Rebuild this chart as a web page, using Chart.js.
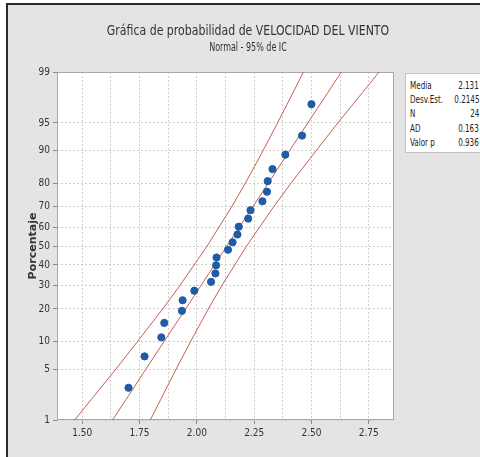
<!DOCTYPE html>
<html>
<head>
<meta charset="utf-8">
<script src="https://cdn.jsdelivr.net/npm/chart.js@4.4.1/dist/chart.umd.min.js"></script>
<style>
  html, body { margin: 0; padding: 0; background: #ffffff; }
  #frame {
    position: absolute; left: 6px; top: 3px; width: 480px; height: 460px;
    background: #e4e4e4; border-left: 2px solid #2a2a2a; border-top: 2px solid #2a2a2a;
  }
  #wrap { position: absolute; left: 0; top: 0; width: 480px; height: 457px; }
  .titulo {
    position: absolute; left: 48px; width: 400px; text-align: center; color: #333;
    font-family: 'DejaVu Sans Condensed', 'Liberation Sans', sans-serif; white-space: nowrap;
  }
  #t1 { top: 22px; font-size: 14px; transform: scaleX(0.87); }
  #t2 { top: 40px; font-size: 12px; transform: scaleX(0.74); }
  #stats {
    position: absolute; left: 405px; top: 73px; width: 80px; height: 78px;
    background: #ffffff; border: 1px solid #c4c4c4;
    font-family: 'DejaVu Sans Condensed', sans-serif;
    font-size: 10px; color: #222;
  }
  #stats div { position: absolute; height: 14px; line-height: 14px; white-space: nowrap; }
  #stats .nom { left: 4px; transform: scaleX(0.8); transform-origin: left center; }
  #stats .val { right: 7px; transform: scaleX(0.8); transform-origin: right center; }
</style>
</head>
<body>
<div id="frame"></div>
<div id="wrap"><canvas id="chart" width="480" height="457"></canvas></div>
<div class="titulo" id="t1"></div>
<div class="titulo" id="t2"></div>
<div id="stats"></div>
<script>
// valores
var velocidad = [1.702, 1.772, 1.845, 1.858, 1.935, 1.938, 1.989, 2.062, 2.081, 2.084, 2.086, 2.136,
                 2.156, 2.177, 2.183, 2.224, 2.234, 2.286, 2.306, 2.309, 2.330, 2.386, 2.459, 2.500];
var porcentaje = [2.9, 7.0, 11.1, 15.2, 19.3, 23.4, 27.5, 31.6, 35.7, 39.8, 43.9, 48.0,
                  52.0, 56.1, 60.2, 64.3, 68.4, 72.5, 76.6, 80.7, 84.8, 88.9, 93.0, 97.1];

// linea ajustada y bandas de confianza (95%)
var lineaPct = [1, 2, 5, 10, 20, 30, 50, 70, 80, 90, 95, 98, 99];
var lineaAjuste = [1.632, 1.691, 1.778, 1.856, 1.951, 2.019, 2.131, 2.244, 2.312, 2.406, 2.484, 2.572, 2.630];
var bandaIzq = [1.467, 1.539, 1.647, 1.740, 1.851, 1.927, 2.045, 2.152, 2.212, 2.290, 2.352, 2.420, 2.465];
var bandaDer = [1.797, 1.842, 1.910, 1.972, 2.050, 2.110, 2.217, 2.335, 2.411, 2.522, 2.615, 2.723, 2.795];

var yTicks = [1, 5, 10, 20, 30, 40, 50, 60, 70, 80, 90, 95, 99];
var xTicks = [1.5, 1.625, 1.75, 1.875, 2.0, 2.125, 2.25, 2.375, 2.5, 2.625, 2.75];
var xLabels = { '1.5': '1.50', '1.75': '1.75', '2': '2.00', '2.25': '2.25', '2.5': '2.50', '2.75': '2.75' };

var titulo = 'Gráfica de probabilidad de VELOCIDAD DEL VIENTO';
var subtitulo = 'Normal - 95% de IC';
var statsNames = ['Media', 'Desv.Est.', 'N', 'AD', 'Valor p'];
var statsValues = ['2.131', '0.2145', '24', '0.163', '0.936'];

// inversa de la normal (Acklam)
function probit(p) {
  var a = [-39.69683028665376, 220.9460984245205, -275.9285104469687, 138.3577518672690, -30.66479806614716, 2.506628277459239];
  var b = [-54.47609879822406, 161.5858368580409, -155.6989798598866, 66.80131188771972, -13.28068155288572];
  var c = [-0.007784894002430293, -0.3223964580411365, -2.400758277161838, -2.549732539343734, 4.374664141464968, 2.938163982698783];
  var d = [0.007784695709041462, 0.3224671290700398, 2.445134137142996, 3.754408661907416];
  var q, r;
  if (p < 0.02425) {
    q = Math.sqrt(-2 * Math.log(p));
    return (((((c[0]*q+c[1])*q+c[2])*q+c[3])*q+c[4])*q+c[5]) / ((((d[0]*q+d[1])*q+d[2])*q+d[3])*q+1);
  }
  if (p > 1 - 0.02425) {
    q = Math.sqrt(-2 * Math.log(1 - p));
    return -(((((c[0]*q+c[1])*q+c[2])*q+c[3])*q+c[4])*q+c[5]) / ((((d[0]*q+d[1])*q+d[2])*q+d[3])*q+1);
  }
  q = p - 0.5; r = q * q;
  return (((((a[0]*r+a[1])*r+a[2])*r+a[3])*r+a[4])*r+a[5])*q / (((((b[0]*r+b[1])*r+b[2])*r+b[3])*r+b[4])*r+1);
}

// escala de probabilidad normal
class ProbabilityScale extends Chart.LinearScale {
  buildTicks() {
    return yTicks.map(function (v) { return { value: v }; });
  }
  configure() {
    super.configure();
    this._zStart = probit(this.min / 100);
    this._zEnd = probit(this.max / 100);
  }
  getPixelForValue(value) {
    var z = probit(value / 100);
    return this.getPixelForDecimal((z - this._zStart) / (this._zEnd - this._zStart));
  }
}
ProbabilityScale.id = 'probability';
ProbabilityScale.defaults = Chart.LinearScale.defaults;
Chart.register(ProbabilityScale);

function toPoints(xs, ys) {
  return xs.map(function (x, i) { return { x: x, y: ys[i] }; });
}

var narrow = "'DejaVu Sans Condensed', sans-serif";
var lineColor = '#c8604f';
var gridColor = '#cfcfcf';

var plotBg = {
  id: 'plotBg',
  beforeDraw: function (chart) {
    var a = chart.chartArea, ctx = chart.ctx;
    ctx.save();
    ctx.fillStyle = '#ffffff';
    ctx.fillRect(a.left, a.top, a.right - a.left, a.bottom - a.top);
    ctx.restore();
  },
  beforeDatasetsDraw: function (chart) {
    var a = chart.chartArea, ctx = chart.ctx;
    ctx.save();
    ctx.strokeStyle = '#a8a8a8';
    ctx.lineWidth = 1;
    ctx.strokeRect(a.left + 0.5, a.top + 0.5, a.right - a.left - 1, a.bottom - a.top - 1);
    ctx.restore();
  }
};

new Chart(document.getElementById('chart'), {
  type: 'scatter',
  data: {
    datasets: [
      {
        label: 'VELOCIDAD DEL VIENTO',
        data: toPoints(velocidad, porcentaje),
        backgroundColor: '#1f5ba6',
        borderColor: '#1f5ba6',
        pointRadius: 3.6,
        pointStyle: 'circle'
      },
      {
        label: 'Ajuste',
        data: toPoints(lineaAjuste, lineaPct),
        showLine: true, pointRadius: 0, borderColor: lineColor, borderWidth: 1
      },
      {
        label: 'IC inferior',
        data: toPoints(bandaIzq, lineaPct),
        showLine: true, pointRadius: 0, borderColor: lineColor, borderWidth: 1
      },
      {
        label: 'IC superior',
        data: toPoints(bandaDer, lineaPct),
        showLine: true, pointRadius: 0, borderColor: lineColor, borderWidth: 1
      }
    ]
  },
  options: {
    responsive: false,
    animation: false,
    events: [],
    layout: { padding: { left: 10, right: 86, top: 72, bottom: 0 } },
    plugins: {
      legend: { display: false },
      tooltip: { enabled: false }
    },
    scales: {
      x: {
        type: 'linear',
        min: 1.39,
        max: 2.86,
        afterBuildTicks: function (scale) {
          scale.ticks = xTicks.map(function (v) { return { value: v }; });
        },
        afterFit: function (scale) {
          scale.height = 37;
          scale.paddingLeft = 0;
          scale.paddingRight = 0;
        },
        border: { display: false, dash: [2, 2] },
        grid: {
          color: gridColor,
          tickColor: function (ctx) {
            return xLabels[String(ctx.tick.value)] ? '#8a8a8a' : 'rgba(0,0,0,0)';
          },
          tickLength: 4
        },
        ticks: {
          autoSkip: false,
          maxRotation: 0,
          padding: 3,
          color: '#333',
          font: { family: narrow, size: 10 },
          callback: function (v) { return xLabels[String(v)] || ''; }
        }
      },
      y: {
        type: 'probability',
        min: 1,
        max: 99,
        afterFit: function (scale) {
          scale.width = 47;
          scale.paddingTop = 0;
          scale.paddingBottom = 0;
        },
        border: { display: false, dash: [2, 2] },
        grid: { color: gridColor, tickColor: '#8a8a8a', tickLength: 4 },
        title: {
          display: true,
          text: 'Porcentaje',
          color: '#333',
          font: { family: "'DejaVu Sans', sans-serif", size: 11, weight: 'bold' },
          padding: { top: 17, bottom: 0 }
        },
        ticks: {
          autoSkip: false,
          padding: 3,
          color: '#333',
          font: { family: narrow, size: 10 },
          callback: function (v) { return String(v); }
        }
      }
    }
  },
  plugins: [plotBg]
});

document.getElementById('t1').textContent = titulo;
document.getElementById('t2').textContent = subtitulo;

// cuadro de estadisticos
var stats = document.getElementById('stats');
statsNames.forEach(function (name, i) {
  var nom = document.createElement('div');
  nom.className = 'nom';
  nom.style.top = (5 + i * 14.2) + 'px';
  nom.textContent = name;
  var val = document.createElement('div');
  val.className = 'val';
  val.style.top = (5 + i * 14.2) + 'px';
  val.textContent = statsValues[i];
  stats.appendChild(nom);
  stats.appendChild(val);
});
</script>
</body>
</html>
